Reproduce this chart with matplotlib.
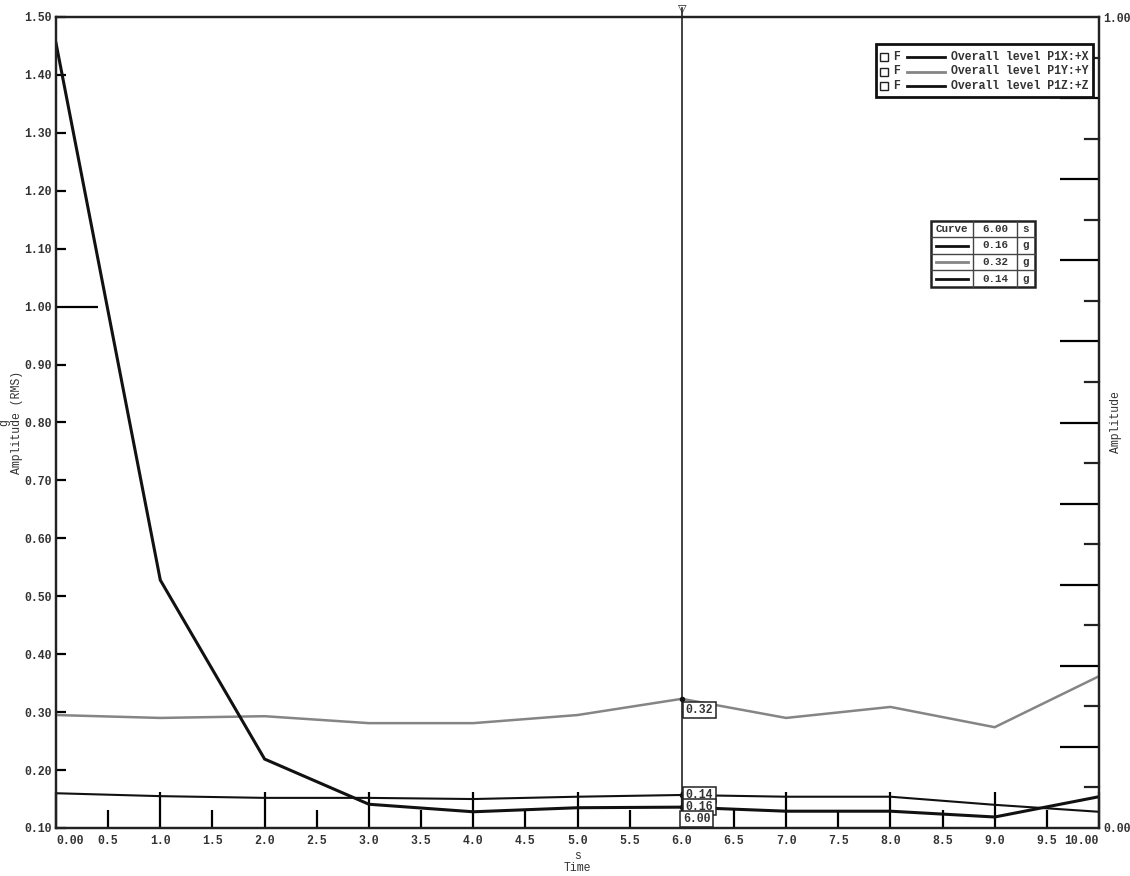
import matplotlib.pyplot as plt
from matplotlib.patches import Rectangle
import numpy as np

plt.rcParams['font.family'] = ['Liberation Mono', 'DejaVu Sans Mono']
plt.rcParams['font.weight'] = 'bold'

# overall level per second
time = [0, 1, 2, 3, 4, 5, 6, 7, 8, 9, 10]
level_x = [0.160, 0.155, 0.152, 0.152, 0.150, 0.154, 0.157, 0.154, 0.154, 0.140, 0.128]
level_y = [0.295, 0.290, 0.293, 0.281, 0.281, 0.295, 0.323, 0.290, 0.309, 0.274, 0.362]
level_z = [1.455, 0.528, 0.219, 0.141, 0.128, 0.135, 0.136, 0.129, 0.129, 0.119, 0.154]

legend_names = ["Overall level P1X:+X", "Overall level P1Y:+Y", "Overall level P1Z:+Z"]
curve_colors = ['#111111', '#858585', '#111111']
curve_widths = [1.5, 1.8, 2.2]

# cursor readout
cursor_time = 6.0
cursor_label = "6.00"
table_values = ["0.16", "0.32", "0.14"]
box_labels = ["0.14", "0.32", "0.16"]   # boxes as drawn next to X, Y, Z curves

y_ticks = np.round(np.arange(0.1, 1.51, 0.1), 2)
x_major = list(range(0, 11))
x_minor = [i + 0.5 for i in range(10)]
x_major_labels = ["0.00"] + [f"{v:.1f}" for v in x_major[1:-1]] + ["10.00"]
x_minor_labels = [f"{v:.1f}" for v in x_minor]

fs = 8.3
txt = '#333333'

fig = plt.figure(figsize=(11.3, 8.76), dpi=100)
ax = fig.add_axes([56 / 1130, 48 / 876, 1043 / 1130, 811 / 876])

series = [level_x, level_y, level_z]
for vals, c, lw in zip(series, curve_colors, curve_widths):
    ax.plot(time, vals, color=c, lw=lw, solid_joinstyle='miter', zorder=3)

ax.set_xlim(0, 10)
ax.set_ylim(0.1, 1.5)
for s in ax.spines.values():
    s.set_linewidth(1.6)
    s.set_color('#222222')

# y: long tick only at 1.00, short ticks elsewhere
ax.set_yticks([1.0], ["1.00"])
ax.set_yticks([v for v in y_ticks if abs(v - 1.0) > 1e-6],
              [f"{v:.2f}" for v in y_ticks if abs(v - 1.0) > 1e-6], minor=True)
ax.tick_params(axis='y', which='major', direction='in', length=30, width=1.6, pad=3,
               labelsize=fs, labelcolor=txt)
ax.tick_params(axis='y', which='minor', direction='in', length=7, width=1.6, pad=3,
               labelsize=fs, labelcolor=txt)

ax.set_xticks(x_major, x_major_labels)
ax.set_xticks(x_minor, x_minor_labels, minor=True)
ax.tick_params(axis='x', which='major', direction='in', length=26, width=1.6, pad=5,
               labelsize=fs, labelcolor=txt)
ax.tick_params(axis='x', which='minor', direction='in', length=13, width=1.6, pad=5,
               labelsize=fs, labelcolor=txt)
xl = ax.get_xticklabels()
xl[0].set_ha('left')
xl[-1].set_ha('right')

ax.set_ylabel("g\nAmplitude (RMS)", fontsize=fs, color=txt, linespacing=1.0)
ax.yaxis.set_label_coords(-0.032, 0.5)
ax.set_xlabel("s\nTime", fontsize=fs, color=txt, linespacing=1.0)
ax.xaxis.set_label_coords(0.5, -0.027)

# right amplitude axis
ax2 = ax.twinx()
ax2.set_ylim(0, 1)
ax2.set_yticks([0, 1], ["0.00", "1.00"])
ax2.set_yticks(np.round(np.arange(0.1, 1.0, 0.1), 2), minor=True)
ax2.tick_params(axis='y', which='major', direction='in', length=0, pad=3,
                labelsize=fs, labelcolor=txt)
ax2.tick_params(axis='y', which='minor', direction='in', length=28, width=1.6)
for v in np.round(np.arange(0.05, 1.0, 0.1), 2):
    ax2.plot([1 - 14 / 1043, 1], [v, v], color='#222222', lw=1.6,
             transform=ax2.get_yaxis_transform(), clip_on=False)
ax2.set_ylabel("Amplitude", fontsize=fs, color=txt)
ax2.yaxis.set_label_coords(1.0106, 0.5)
for s in ax2.spines.values():
    s.set_linewidth(1.6)
    s.set_color('#222222')

# cursor
trans = ax.get_xaxis_transform()
ax.plot([cursor_time, cursor_time], [0, 1.011], color='#222222', lw=1.2,
        transform=trans, clip_on=False, zorder=4)
ax.text(cursor_time, 1.011, "▽", transform=trans, ha='center', va='center',
        fontsize=8, family='DejaVu Sans', color='#222222', clip_on=False)

ci = time.index(int(cursor_time))
box = dict(boxstyle='square,pad=0.2', fc='white', ec='#222222', lw=1.1)
offsets = [0, -11, 0]
for vals, lab, dy in zip(series, box_labels, offsets):
    ax.plot(cursor_time, vals[ci], 'o', color='#111111', ms=3, zorder=5)
    ax.annotate(lab, (cursor_time, vals[ci]), xytext=(4, dy), textcoords='offset pixels',
                ha='left', va='center', fontsize=fs, color=txt, bbox=box, zorder=6)
ax.annotate(cursor_label, (cursor_time, 0), xycoords=trans, xytext=(1, 3),
            textcoords='offset pixels', ha='left', va='bottom', fontsize=fs,
            color=txt, bbox=box, zorder=6)

# overlay in pixel space for the legend box and the cursor table
ov = fig.add_axes([0, 0, 1, 1], zorder=10)
ov.set_xlim(0, 1130)
ov.set_ylim(876, 0)
ov.axis('off')
ov.patch.set_alpha(0)

ov.add_patch(Rectangle((876, 44), 217, 53, fc='white', ec='#111111', lw=2))
for i, (name, c) in enumerate(zip(legend_names, curve_colors)):
    yy = 57 + i * 14.5
    ov.add_patch(Rectangle((880, yy - 4), 8, 8, fill=False, ec='#222222', lw=1))
    ov.text(893, yy, "F", fontsize=fs, va='center', color=txt)
    ov.plot([907, 945], [yy, yy], color=c, lw=2)
    ov.text(951, yy, name, fontsize=fs, va='center', color=txt)

rows = [221, 237, 254, 270, 287]
cols = [931, 973, 1017, 1035]
ov.add_patch(Rectangle((cols[0], rows[0]), cols[-1] - cols[0], rows[-1] - rows[0],
                       fc='white', ec='#222222', lw=1.8))
for r in rows[1:-1]:
    ov.plot([cols[0], cols[-1]], [r, r], color='#444444', lw=1)
for c in cols[1:-1]:
    ov.plot([c, c], [rows[0], rows[-1]], color='#444444', lw=1)
ov.text((cols[0] + cols[1]) / 2, (rows[0] + rows[1]) / 2, "Curve", fontsize=fs - 0.5,
        ha='center', va='center', color=txt)
ov.text((cols[1] + cols[2]) / 2, (rows[0] + rows[1]) / 2, cursor_label, fontsize=fs - 0.5,
        ha='center', va='center', color=txt)
ov.text((cols[2] + cols[3]) / 2, (rows[0] + rows[1]) / 2, "s", fontsize=fs - 0.5,
        ha='center', va='center', color=txt)
for i, (val, c) in enumerate(zip(table_values, curve_colors)):
    yy = (rows[i + 1] + rows[i + 2]) / 2
    ov.plot([cols[0] + 5, cols[1] - 5], [yy, yy], color=c, lw=2)
    ov.text((cols[1] + cols[2]) / 2, yy, val, fontsize=fs - 0.5, ha='center',
            va='center', color=txt)
    ov.text((cols[2] + cols[3]) / 2, yy, "g", fontsize=fs - 0.5, ha='center',
            va='center', color=txt)

fig.savefig('out.png', dpi=100, facecolor='white')
